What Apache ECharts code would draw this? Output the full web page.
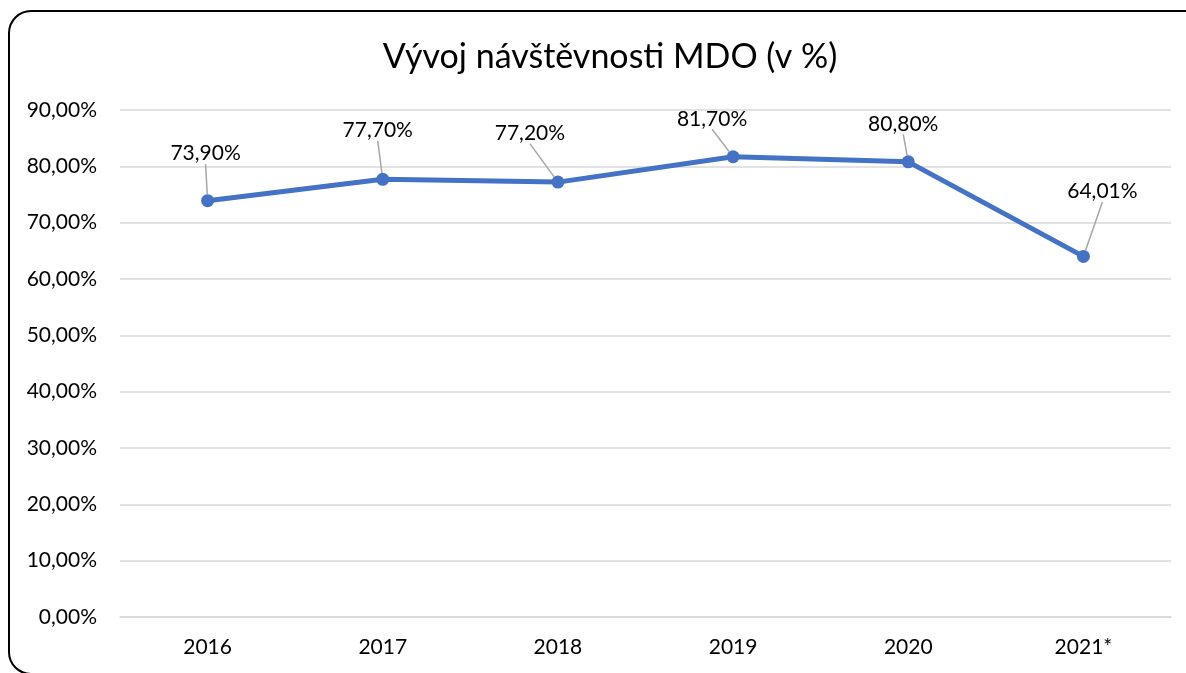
<!DOCTYPE html>
<html>
<head>
<meta charset="utf-8">
<script src="https://cdn.jsdelivr.net/npm/echarts@6/dist/echarts.min.js"></script>
<style>
  html, body { margin: 0; padding: 0; background: #fff; }
  #chart { width: 1186px; height: 673px; }
</style>
</head>
<body>
<div id="chart"></div>
<script>
const years = ['2016', '2017', '2018', '2019', '2020', '2021*']
const visitRate = [73.9, 77.7, 77.2, 81.7, 80.8, 64.01]
const yTicks = [0, 10, 20, 30, 40, 50, 60, 70, 80, 90]

// posun popisku od bodu (px), podle předlohy
const labelOffsets = [[-2, -47], [-5, -49], [-28, -49], [-21, -38], [-5, -38], [19, -65]]

const fmt = (v) => v.toFixed(2).replace('.', ',') + '%'
const FONT = 'Lato'

const chart = echarts.init(document.getElementById('chart'))

const option = {
  backgroundColor: '#fff',
  animation: false,
  title: {
    text: 'Vývoj návštěvnosti MDO (v %)',
    left: 605,
    textAlign: 'center',
    top: 35,
    textStyle: { fontFamily: FONT, fontSize: 34, fontWeight: 'normal', color: '#000' }
  },
  graphic: [
    {
      type: 'rect',
      shape: { x: 9, y: 11, width: 1200, height: 663, r: 22 },
      style: { fill: 'none', stroke: '#000', lineWidth: 2 },
      silent: true
    }
  ],
  grid: { left: 120, right: 15, top: 110, bottom: 56 },
  xAxis: {
    type: 'category',
    data: years,
    boundaryGap: true,
    axisLine: { show: true, lineStyle: { color: '#d9d9d9', width: 1.5 } },
    axisTick: { show: false },
    axisLabel: { fontFamily: FONT, fontSize: 21, color: '#000', margin: 20 }
  },
  yAxis: {
    type: 'value',
    min: yTicks[0],
    max: yTicks[yTicks.length - 1],
    interval: 10,
    axisLine: { show: false },
    axisTick: { show: false },
    axisLabel: { fontFamily: FONT, fontSize: 21, color: '#000', margin: 23, formatter: (v) => fmt(v) },
    splitLine: { lineStyle: { color: '#d9d9d9', width: 1.5 } }
  },
  series: [
    {
      type: 'line',
      data: visitRate,
      symbol: 'circle',
      symbolSize: 13,
      lineStyle: { color: '#4472c4', width: 5 },
      itemStyle: { color: '#4472c4' },
      label: {
        show: true,
        position: 'top',
        fontFamily: FONT,
        fontSize: 21,
        color: '#000',
        formatter: (p) => fmt(p.value)
      },
      labelLine: { show: true, lineStyle: { color: '#a6a6a6', width: 1.5 } },
      labelLayout: (params) => {
        const off = labelOffsets[params.dataIndex]
        const cx = params.rect.x + params.rect.width / 2
        const cy = params.rect.y + params.rect.height / 2
        return {
          x: cx + off[0] - params.labelRect.width / 2,
          y: cy + off[1] - params.labelRect.height / 2
        }
      }
    }
  ]
}

chart.setOption(option)
window.addEventListener('resize', () => chart.resize())
</script>
</body>
</html>
